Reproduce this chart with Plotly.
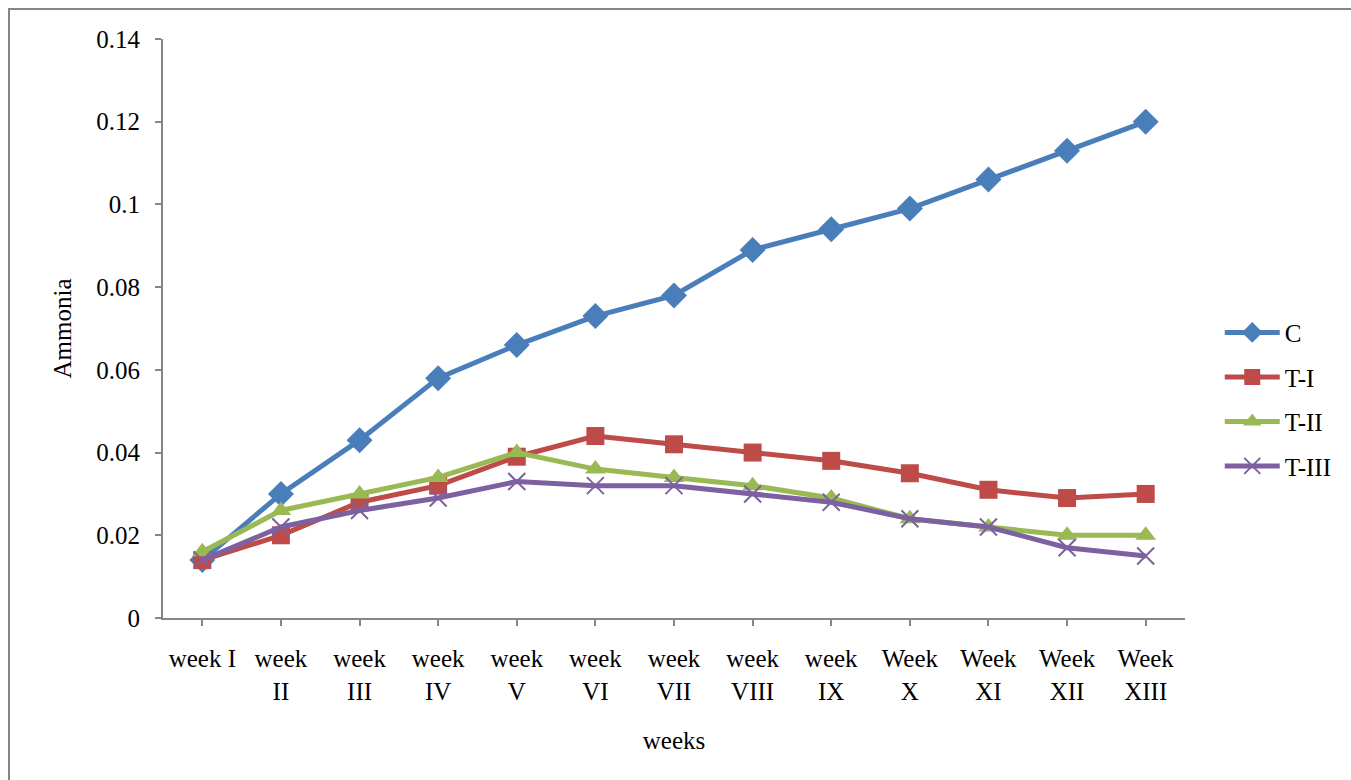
import plotly.graph_objects as go

# Weekly ammonia readings for the control and three treatments
weeks = ["week I", "week<br>II", "week<br>III", "week<br>IV", "week<br>V", "week<br>VI",
         "week<br>VII", "week<br>VIII", "week<br>IX", "Week<br>X", "Week<br>XI",
         "Week<br>XII", "Week<br>XIII"]

c_vals = [0.014, 0.030, 0.043, 0.058, 0.066, 0.073, 0.078, 0.089, 0.094, 0.099, 0.106, 0.113, 0.120]
t1_vals = [0.014, 0.020, 0.028, 0.032, 0.039, 0.044, 0.042, 0.040, 0.038, 0.035, 0.031, 0.029, 0.030]
t2_vals = [0.016, 0.026, 0.030, 0.034, 0.040, 0.036, 0.034, 0.032, 0.029, 0.024, 0.022, 0.020, 0.020]
t3_vals = [0.014, 0.022, 0.026, 0.029, 0.033, 0.032, 0.032, 0.030, 0.028, 0.024, 0.022, 0.017, 0.015]

y_ticks = [0, 0.02, 0.04, 0.06, 0.08, 0.1, 0.12, 0.14]
y_tick_text = ["0", "0.02", "0.04", "0.06", "0.08", "0.1", "0.12", "0.14"]

FONT = "Liberation Serif, Times New Roman, serif"
FS = 25
AXIS_GRAY = "#868686"

series = [
    ("C", c_vals, "#4A7EBB", dict(symbol="diamond", size=20)),
    ("T-I", t1_vals, "#BE4B48", dict(symbol="square", size=18)),
    ("T-II", t2_vals, "#98B954", dict(symbol="triangle-up", size=18)),
    ("T-III", t3_vals, "#7D60A0", dict(symbol="x-thin-open", size=17, line=dict(width=2))),
]

fig = go.Figure()
for name, vals, color, marker in series:
    m = dict(color=color, **marker)
    if "line" in m:
        m["line"]["color"] = color
    fig.add_trace(go.Scatter(
        x=list(range(len(weeks))), y=vals, name=name, mode="lines+markers",
        line=dict(color=color, width=5), marker=m, legendgroup=name,
    ))

fig.update_layout(
    width=1351, height=780,
    margin=dict(l=163, r=166, t=39, b=162, autoexpand=False),
    paper_bgcolor="white", plot_bgcolor="white",
    font=dict(family=FONT, size=FS, color="black"),
    showlegend=True,
    legend=dict(x=1.034, xanchor="left", y=0.378, yanchor="middle",
                font=dict(family=FONT, size=FS), tracegroupgap=9,
                itemwidth=55, bgcolor="rgba(0,0,0,0)"),
    xaxis=dict(
        range=[-0.5, 12.5], tickmode="array",
        tickvals=list(range(len(weeks))), ticktext=weeks,
        tickson="boundaries", ticks="outside", ticklen=6, tickcolor=AXIS_GRAY,
        tickwidth=2, showline=True, linecolor=AXIS_GRAY, linewidth=2,
        showgrid=False, zeroline=False, ticklabelstandoff=11,
        tickfont=dict(family=FONT, size=FS),
        title=dict(text="weeks", font=dict(family=FONT, size=FS), standoff=28),
    ),
    yaxis=dict(
        range=[0, 0.14], tickmode="array", tickvals=y_ticks, ticktext=y_tick_text,
        ticks="outside", ticklen=6, tickcolor=AXIS_GRAY, tickwidth=2,
        showline=True, linecolor=AXIS_GRAY, linewidth=2,
        showgrid=False, zeroline=False, ticklabelstandoff=10,
        tickfont=dict(family=FONT, size=FS),
        title=dict(text="Ammonia", font=dict(family=FONT, size=FS), standoff=18),
    ),
    shapes=[dict(type="rect", xref="paper", yref="paper",
                 x0=(9 - 163) / 1022, x1=1.5, y0=-0.6, y1=(618 - 9) / 579,
                 line=dict(color=AXIS_GRAY, width=2), layer="below")],
)

fig.write_html("out.html")
